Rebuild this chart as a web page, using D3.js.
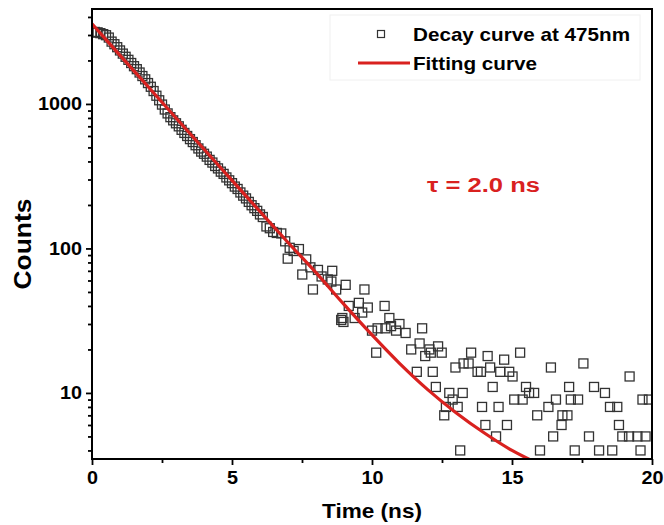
<!DOCTYPE html>
<html><head><meta charset="utf-8">
<script src="https://cdn.jsdelivr.net/npm/d3@7"></script>
<style>
body{margin:0;background:#fff}
text{font-family:"Liberation Sans",Arial,sans-serif;font-weight:bold;fill:#000}
</style>
</head><body><svg id="c" width="664" height="525"></svg>
<script>
// ---- data ----
const decayTime = [
 0,0.1,0.2,0.3,0.4,0.5,0.6,0.7,0.8,0.9,1.0,1.1,1.2,1.3,1.4,1.5,1.6,1.7,1.8,1.9,
 2.0,2.1,2.2,2.3,2.4,2.5,2.6,2.7,2.8,2.9,3.0,3.1,3.2,3.3,3.4,3.5,3.6,3.7,3.8,3.9,
 4.0,4.1,4.2,4.3,4.4,4.5,4.6,4.7,4.8,4.9,5.0,5.1,5.2,5.3,5.4,5.5,5.6,5.7,5.8,5.9,6.0,
 6.1,6.23,6.35,6.47,6.6,6.76,6.9,6.99,7.06,7.2,7.39,7.51,7.65,7.8,7.89,8.07,8.2,8.42,8.55,8.58,
 8.72,8.9,8.94,8.98,9.06,9.17,9.38,9.53,9.65,9.73,9.85,10.0,10.15,10.2,10.45,10.48,10.62,10.68,
 10.86,10.98,11.2,11.4,11.6,11.7,11.79,11.9,12.05,12.1,12.17,12.28,12.36,12.49,12.58,12.64,12.76,
 12.88,12.98,13.06,13.15,13.24,13.27,13.45,13.54,13.77,13.89,13.93,14.05,14.13,14.22,14.31,14.43,
 14.52,14.58,14.72,14.82,14.9,15.02,15.08,15.29,15.38,15.5,15.61,15.79,15.9,16.0,16.3,16.39,16.47,
 16.57,16.77,16.8,16.98,17.04,17.1,17.24,17.36,17.55,17.75,17.93,18.11,18.32,18.5,18.58,18.76,
 18.82,18.94,19.18,19.2,19.48,19.59,19.66,19.77,19.89
];
const decayCounts = [
 3120,3150,3130,3090,3040,2990,2880,2700,2590,2470,2345,2230,2120,2020,1920,1825,1740,1650,1560,1480,
 1395,1315,1228,1140,1060,990,915,860,810,770,735,700,662,630,600,571,545,518,492,468,
 452,432,410,393,372,358,340,328,310,296,283,268,258,244,232,222,210,199,190,182,172,
 165,142,138,130,128,127,112,85,101,96,99,66,84,74,52,71,64,61,59,70,
 52,32,33,31,56,40,33,42,36,52,39,27,19,28,40,28,33,29,
 27,30,26,20,14,22,28,18,20,19,14,11,21,19,7,8,10,
 9,15,8,4,10,16,16,19,14,14,8,6,18,15,11,5,
 8,14,17,6,14,13,9,19,9,11,10,10,7,4,8,15,5,
 9,6,7,7,11,9,4,9,16,5,11,4,10,8,4,8,
 6,5,5,13,5,4,9,5,9
];
const fitTime   = [0,1,2,3,4,5,6,7,8,9,10,11,12,13,14,15,16];
const fitCounts = [3580,2170,1320,800,486,296,180,110,68,41,25.2,15.9,10.5,7.3,5.3,4.0,3.2];

const xMajorTicks = [0,5,10,15,20];
const xMinorTicks = [2.5,7.5,12.5,17.5];
const yMajorTicks = [10,100,1000];
const yMinorTicks = [4,5,6,7,8,9,20,30,40,50,60,70,80,90,200,300,400,500,600,700,800,900,2000,3000,4000];
const xDomain = [0,20];
const yDomain = [3.49,4540];
const legendLabels = ["Decay curve at 475nm","Fitting curve"];
const annotationText = "\u03c4 = 2.0 ns";
const xTitle = "Time (ns)";
const yTitle = "Counts";

// ---- drawing ----
const svg = d3.select("#c");
const L=92, R=652, T=9, B=459;
const x = d3.scaleLinear().domain(xDomain).range([L,R]);
const y = d3.scaleLog().domain(yDomain).range([B,T]);
const red = "#d9211f";

function stretch(sel,k){
  sel.each(function(){
    const w=this.getComputedTextLength();
    this.setAttribute("textLength",w*k);
    this.setAttribute("lengthAdjust","spacingAndGlyphs");
  });
}

svg.append("defs").append("clipPath").attr("id","clip")
  .append("rect").attr("x",L).attr("y",T).attr("width",R-L).attr("height",B-T);

// legend box (faint)
svg.append("rect").attr("x",330).attr("y",15).attr("width",310).attr("height",65)
  .attr("fill","none").attr("stroke","#f0f0f0").attr("stroke-width",1);

// data squares
const plot = svg.append("g").attr("clip-path","url(#clip)");
const sq = 9;
plot.selectAll("rect.pt").data(decayTime.map((t,i)=>[t,decayCounts[i]]))
  .enter().append("rect").attr("class","pt")
  .attr("x",d=>x(d[0])-sq/2).attr("y",d=>y(d[1])-sq/2)
  .attr("width",sq).attr("height",sq)
  .attr("fill","none").attr("stroke","#333").attr("stroke-width",1.3);

// fit curve
const line = d3.line().x(d=>x(d[0])).y(d=>y(d[1])).curve(d3.curveMonotoneX);
plot.append("path").datum(fitTime.map((t,i)=>[t,fitCounts[i]]))
  .attr("d",line).attr("fill","none").attr("stroke",red).attr("stroke-width",3.2);

// axes
const gx = svg.append("g").attr("transform",`translate(0,${B})`)
  .call(d3.axisBottom(x).tickValues(xMajorTicks).tickSize(6).tickPadding(6).tickFormat(d3.format("d")));
const gxm = svg.append("g").attr("transform",`translate(0,${B})`)
  .call(d3.axisBottom(x).tickValues(xMinorTicks).tickSize(4).tickFormat(""));
const gy = svg.append("g").attr("transform",`translate(${L},0)`)
  .call(d3.axisLeft(y).tickValues(yMajorTicks).tickSize(6).tickPadding(4).tickFormat(d3.format("d")));
const gym = svg.append("g").attr("transform",`translate(${L},0)`)
  .call(d3.axisLeft(y).tickValues(yMinorTicks).tickSize(4).tickFormat(""));
[gx,gxm,gy,gym].forEach(g=>{
  g.select(".domain").remove();
  g.selectAll(".tick line").attr("stroke","#000").attr("stroke-width",1.8);
  g.selectAll(".tick text").attr("font-size",18).attr("font-family","Liberation Sans, Arial, sans-serif")
    .attr("font-weight","bold").attr("fill","#000");
});
stretch(gx.selectAll(".tick text"),1.1);
stretch(gy.selectAll(".tick text"),1.1);

// frame
svg.append("rect").attr("x",L).attr("y",T).attr("width",R-L).attr("height",B-T)
  .attr("fill","none").attr("stroke","#000").attr("stroke-width",2);

// titles
svg.append("text").attr("x",372).attr("y",518).attr("text-anchor","middle")
  .attr("font-size",21).attr("textLength",100).attr("lengthAdjust","spacingAndGlyphs").text(xTitle);
svg.append("text").attr("transform","translate(31,244) rotate(-90)").attr("text-anchor","middle")
  .attr("font-size",23).attr("textLength",91).attr("lengthAdjust","spacingAndGlyphs").text(yTitle);

// annotation
svg.append("text").attr("x",427).attr("y",192).attr("font-size",20)
  .style("fill",red).attr("textLength",113).attr("lengthAdjust","spacingAndGlyphs").text(annotationText);

// legend
svg.append("rect").attr("x",381-3.5).attr("y",34-3.5).attr("width",7).attr("height",7)
  .attr("fill","none").attr("stroke","#333").attr("stroke-width",1.2);
svg.append("text").attr("x",413).attr("y",41).attr("font-size",18.5)
  .attr("textLength",217).attr("lengthAdjust","spacingAndGlyphs").text(legendLabels[0]);
svg.append("line").attr("x1",358).attr("x2",410).attr("y1",63).attr("y2",63)
  .attr("stroke",red).attr("stroke-width",3);
svg.append("text").attr("x",413).attr("y",70).attr("font-size",18.5)
  .attr("textLength",124).attr("lengthAdjust","spacingAndGlyphs").text(legendLabels[1]);
</script>
</body></html>
